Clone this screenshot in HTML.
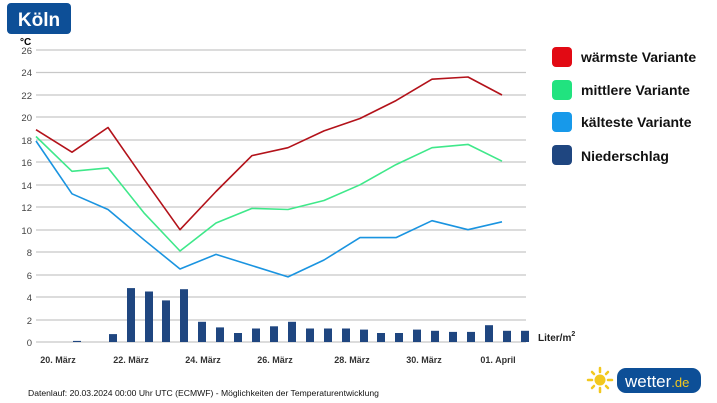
<!DOCTYPE html>
<html><head><meta charset="utf-8"><style>
body{margin:0;background:#fff;}
svg{display:block;font-family:"Liberation Sans",sans-serif;}
</style></head><body>
<svg width="717" height="403" viewBox="0 0 717 403">
<rect x="7" y="3" width="64" height="31" rx="4" fill="#0d4f97"/>
<text x="39" y="26" text-anchor="middle" font-size="19" font-weight="bold" fill="#fff">Köln</text>
<text x="20" y="45" font-size="10" font-weight="bold" fill="#000">°C</text>
<g stroke="#c8c8c8" stroke-width="1.2">
<line x1="36" x2="526" y1="50" y2="50"/><line x1="36" x2="526" y1="72.5" y2="72.5"/><line x1="36" x2="526" y1="95" y2="95"/><line x1="36" x2="526" y1="117" y2="117"/><line x1="36" x2="526" y1="140" y2="140"/><line x1="36" x2="526" y1="162" y2="162"/><line x1="36" x2="526" y1="185" y2="185"/><line x1="36" x2="526" y1="207" y2="207"/><line x1="36" x2="526" y1="230" y2="230"/><line x1="36" x2="526" y1="252" y2="252"/><line x1="36" x2="526" y1="275" y2="275"/><line x1="36" x2="526" y1="297" y2="297"/><line x1="36" x2="526" y1="320" y2="320"/><line x1="36" x2="526" y1="342" y2="342"/>
</g>
<g font-size="9.5" fill="#444" text-anchor="end">
<text x="32" y="54">26</text><text x="32" y="76">24</text><text x="32" y="99">22</text><text x="32" y="121">20</text><text x="32" y="144">18</text><text x="32" y="166">16</text><text x="32" y="189">14</text><text x="32" y="211">12</text><text x="32" y="234">10</text><text x="32" y="256">8</text><text x="32" y="279">6</text><text x="32" y="301">4</text><text x="32" y="324">2</text><text x="32" y="346">0</text>
</g>
<g fill="#1f4680">
<rect x="73" y="340.9" width="8" height="1.1"/>
<rect x="109" y="334.1" width="8" height="7.9"/>
<rect x="127" y="288.1" width="8" height="53.9"/>
<rect x="145" y="291.5" width="8" height="50.5"/>
<rect x="162" y="300.4" width="8" height="41.6"/>
<rect x="180" y="289.2" width="8" height="52.8"/>
<rect x="198" y="321.8" width="8" height="20.2"/>
<rect x="216" y="327.4" width="8" height="14.6"/>
<rect x="234" y="333" width="8" height="9"/>
<rect x="252" y="328.5" width="8" height="13.5"/>
<rect x="270" y="326.3" width="8" height="15.7"/>
<rect x="288" y="321.8" width="8" height="20.2"/>
<rect x="306" y="328.5" width="8" height="13.5"/>
<rect x="324" y="328.5" width="8" height="13.5"/>
<rect x="342" y="328.5" width="8" height="13.5"/>
<rect x="360" y="329.6" width="8" height="12.4"/>
<rect x="377" y="333" width="8" height="9"/>
<rect x="395" y="333" width="8" height="9"/>
<rect x="413" y="329.6" width="8" height="12.4"/>
<rect x="431" y="330.8" width="8" height="11.2"/>
<rect x="449" y="331.9" width="8" height="10.1"/>
<rect x="467" y="331.9" width="8" height="10.1"/>
<rect x="485" y="325.2" width="8" height="16.8"/>
<rect x="503" y="330.8" width="8" height="11.2"/>
<rect x="521" y="330.8" width="8" height="11.2"/>
</g>
<g fill="none" stroke-width="1.6" stroke-linejoin="round">
<polyline stroke="#b3121a" points="36,129.7 72,152.2 108,127.5 144,179.2 180,229.7 216,191.5 252,155.6 288,147.7 324,130.9 360,118.5 396,100.6 432,79.2 468,77 502,95"/>
<polyline stroke="#3fe88a" points="36,136.5 72,171.3 108,167.9 144,212.9 180,251 216,223 252,208.4 288,209.5 324,200.5 360,184.8 396,164.6 432,147.7 468,144.4 502,161.2"/>
<polyline stroke="#1a94e0" points="36,141 72,193.8 108,209.5 144,239.8 180,269 216,254.4 252,265.6 288,276.9 324,260 360,237.6 396,237.6 432,220.7 468,229.7 502,221.8"/>
</g>
<text x="538" y="341" font-size="10" font-weight="bold" fill="#222">Liter/m<tspan font-size="7" dy="-5">2</tspan></text>
<g font-size="9" font-weight="bold" fill="#333" text-anchor="middle">
<text x="58" y="363">20. März</text><text x="131" y="363">22. März</text><text x="203" y="363">24. März</text><text x="275" y="363">26. März</text><text x="352" y="363">28. März</text><text x="424" y="363">30. März</text><text x="498" y="363">01. April</text>
</g>
<text x="28" y="396" font-size="8.6" fill="#111">Datenlauf: 20.03.2024 00:00 Uhr UTC (ECMWF) - Möglichkeiten der Temperaturentwicklung</text>
<rect x="552" y="47" width="20" height="20" rx="4" fill="#e20a14"/>
<rect x="552" y="80" width="20" height="20" rx="4" fill="#21e37f"/>
<rect x="552" y="112" width="20" height="20" rx="4" fill="#1799ea"/>
<rect x="552" y="145" width="20" height="20" rx="4" fill="#1f4680"/>
<g font-size="14" font-weight="bold" fill="#111">
<text x="581" y="62">wärmste Variante</text>
<text x="581" y="95">mittlere Variante</text>
<text x="581" y="127">kälteste Variante</text>
<text x="581" y="161">Niederschlag</text>
</g>
<g stroke="#f2c81e" stroke-width="2.5" stroke-linecap="round">
<line x1="600" y1="368" x2="600" y2="372"/><line x1="600" y1="388" x2="600" y2="392"/>
<line x1="588" y1="380" x2="592" y2="380"/><line x1="608" y1="380" x2="612" y2="380"/>
<line x1="592" y1="372" x2="594" y2="374"/><line x1="606" y1="386" x2="608" y2="388"/>
<line x1="592" y1="388" x2="594" y2="386"/><line x1="606" y1="374" x2="608" y2="372"/>
</g>
<circle cx="600" cy="380" r="5.5" fill="#f2c81e"/>
<rect x="617" y="368" width="84" height="25" rx="9" fill="#0d4f97"/>
<text x="625" y="387" font-size="17" fill="#fff">wetter<tspan font-size="13" fill="#f2c81e">.de</tspan></text>
</svg>
</body></html>
